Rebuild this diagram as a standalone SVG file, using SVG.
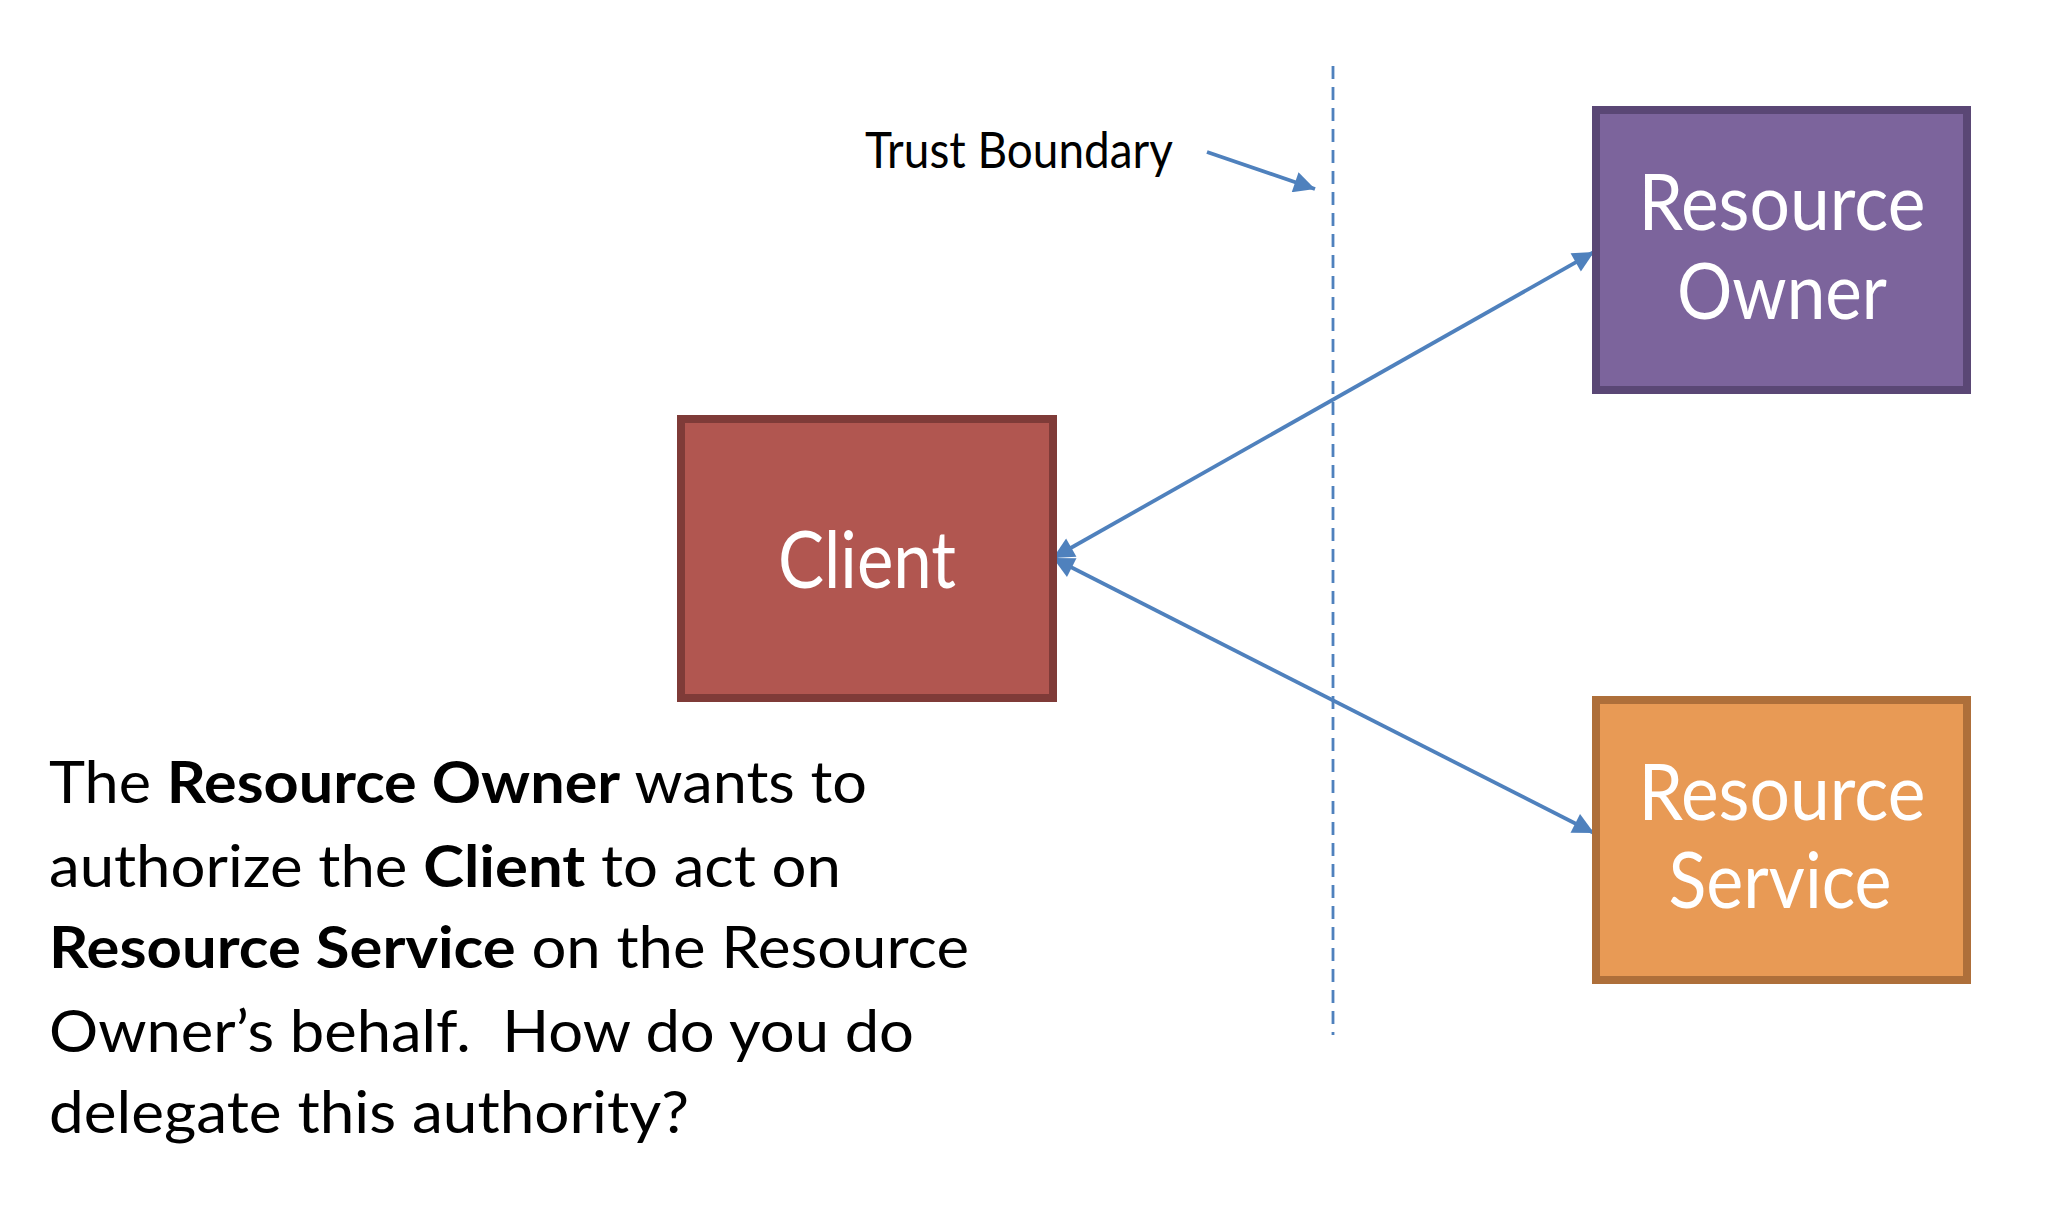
<svg xmlns="http://www.w3.org/2000/svg" width="2068" height="1228" viewBox="0 0 2068 1228">
<style>
.node rect{stroke-width:8}
.lbl{font-family:Lato,"Open Sans","Liberation Sans",sans-serif;fill:#fff;text-anchor:middle}
.body{font-family:Lato,"Open Sans","Liberation Sans",sans-serif;fill:#000;font-size:58px}
.b{font-weight:bold}
.conn{stroke:#4F81BD;stroke-width:3.8;fill:none}
</style>
<defs>
<marker id="ah" viewBox="0 0 10 10" refX="10" refY="5" markerUnits="userSpaceOnUse" markerWidth="25" markerHeight="21" orient="auto-start-reverse">
<path d="M0,0 L10,5 L0,10 z" fill="#4F81BD"/>
</marker>
</defs>
<rect width="2068" height="1228" fill="#fff"/>
<g id="connectors">
<line x1="1333" y1="66" x2="1333" y2="1035" stroke="#4F81BD" stroke-width="2.8" stroke-dasharray="13 8"/>
<line class="conn" x1="1207" y1="152" x2="1315" y2="189" marker-end="url(#ah)"/>
<line class="conn" x1="1053" y1="558" x2="1594" y2="252" marker-start="url(#ah)" marker-end="url(#ah)"/>
<line class="conn" x1="1053" y1="558" x2="1594" y2="833" marker-start="url(#ah)" marker-end="url(#ah)"/>
</g>
<g id="trust-boundary-label">
<text x="865" y="168" font-family="Lato,'Open Sans','Liberation Sans',sans-serif" font-size="50" fill="#000" textLength="308" lengthAdjust="spacingAndGlyphs">Trust Boundary</text>
</g>
<g id="client" class="node">
<rect x="681" y="419" width="372" height="279" fill="#B15650" stroke="#7F3B38"/>
<text class="lbl" x="867" y="588" font-size="80" textLength="178" lengthAdjust="spacingAndGlyphs">Client</text>
</g>
<g id="resource-owner" class="node">
<rect x="1596" y="110" width="371" height="280" fill="#7C649C" stroke="#5A4775"/>
<text class="lbl" x="1782" y="230" font-size="78" textLength="287" lengthAdjust="spacingAndGlyphs">Resource</text>
<text class="lbl" x="1782" y="319" font-size="78" textLength="210" lengthAdjust="spacingAndGlyphs">Owner</text>
</g>
<g id="resource-service" class="node">
<rect x="1596" y="700" width="371" height="280" fill="#E89A55" stroke="#AE6F3A"/>
<text class="lbl" x="1782" y="820" font-size="78" textLength="287" lengthAdjust="spacingAndGlyphs">Resource</text>
<text class="lbl" x="1780" y="908" font-size="78" textLength="223" lengthAdjust="spacingAndGlyphs">Service</text>
</g>
<g id="description">
<text class="body" x="49" y="803" textLength="818" lengthAdjust="spacingAndGlyphs">The <tspan class="b">Resource Owner</tspan> wants to</text>
<text class="body" x="49" y="887" textLength="792" lengthAdjust="spacingAndGlyphs">authorize the <tspan class="b">Client</tspan> to act on</text>
<text class="body" x="49" y="968" textLength="920" lengthAdjust="spacingAndGlyphs"><tspan class="b">Resource Service</tspan> on the Resource</text>
<text class="body" x="49" y="1052" textLength="865" lengthAdjust="spacingAndGlyphs" xml:space="preserve">Owner’s behalf.  How do you do</text>
<text class="body" x="49" y="1133" textLength="640" lengthAdjust="spacingAndGlyphs">delegate this authority?</text>
</g>
</svg>
